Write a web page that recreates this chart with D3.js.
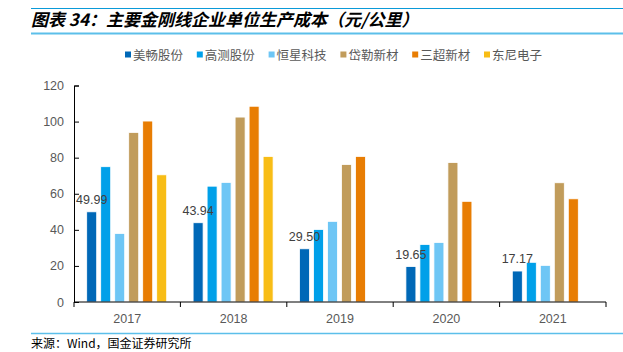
<!DOCTYPE html>
<html>
<head>
<meta charset="utf-8">
<script src="https://cdn.jsdelivr.net/npm/d3@7"></script>
<style>
  html, body { margin: 0; padding: 0; background: #fff; }
  svg { display: block; font-family: "Noto Sans CJK SC", "Liberation Sans", sans-serif; }
</style>
</head>
<body>
<div id="chart"></div>
<script>
const years = ['2017', '2018', '2019', '2020', '2021'];
const companies = ['美畅股份', '高测股份', '恒星科技', '岱勒新材', '三超新材', '东尼电子'];
const colors = ['#0068b7', '#00a0e9', '#6ec6f5', '#c19c5b', '#e87d03', '#f8bd16'];

// one array per company, null = no data
const meichang = [49.99, 43.94, 29.50, 19.65, 17.17];
const gaoce = [75, 64.2, 40.2, 31.9, 22.0];
const hengxing = [38, 66.3, 44.7, 33.0, 20.3];
const daile = [94, 102.5, 76.2, 77.3, 66.1];
const sanchao = [100.3, 108.5, 80.7, 55.8, 57.2];
const dongni = [70.5, 80.7, null, null, null];
const seriesValues = [meichang, gaoce, hengxing, daile, sanchao, dongni];

const yTicks = [0, 20, 40, 60, 80, 100, 120];
const title = '图表 34：主要金刚线企业单位生产成本（元/公里）';
const source = '来源：Wind，国金证券研究所';

const width = 623, height = 352;
const margin = { left: 74, right: 17, top: 85.5, bottom: 50 };

const svg = d3.select('#chart').append('svg')
    .attr('width', width)
    .attr('height', height);

// --- Header ---
svg.append('line')
    .attr('x1', 31).attr('x2', width).attr('y1', 8.5).attr('y2', 8.5)
    .attr('stroke', '#0a9ad8').attr('stroke-width', 1.2);
svg.append('line')
    .attr('x1', 31).attr('x2', width).attr('y1', 33.5).attr('y2', 33.5)
    .attr('stroke', '#5cbfea').attr('stroke-width', 2);
svg.append('text')
    .attr('x', 31).attr('y', 26)
    .attr('font-size', 17)
    .attr('font-weight', 'bold')
    .attr('font-style', 'italic')
    .attr('fill', '#000')
    .text(title);

// --- Footer ---
svg.append('line')
    .attr('x1', 31).attr('x2', width).attr('y1', 333.5).attr('y2', 333.5)
    .attr('stroke', '#5cbfea').attr('stroke-width', 1.5);
svg.append('text')
    .attr('x', 31).attr('y', 348)
    .attr('font-size', 12)
    .attr('fill', '#000')
    .text(source);

// --- Scales ---
const x0 = d3.scaleBand()
    .domain(years)
    .range([margin.left, width - margin.right])
    .padding(0);

const x1 = d3.scaleBand()
    .domain(companies)
    .range([12.7, 92.7])
    .paddingInner(4 / 14)
    .paddingOuter(0);

const y = d3.scaleLinear()
    .domain([0, 120])
    .range([height - margin.bottom, margin.top]);

// --- Legend ---
const legend = svg.append('g').attr('class', 'legend');
const legendItem = legend.selectAll('g')
    .data(companies)
    .enter().append('g')
    .attr('transform', (d, i) => `translate(${125 + i * 71.8},55)`);
legendItem.append('rect')
    .attr('x', 0).attr('y', -3.5)
    .attr('width', 6).attr('height', 6)
    .attr('fill', (d, i) => colors[i]);
legendItem.append('text')
    .attr('x', 8).attr('y', 4.5)
    .attr('font-size', 12.5)
    .attr('fill', '#595959')
    .text(d => d);

// --- Bars ---
const groups = svg.append('g').selectAll('g')
    .data(years)
    .enter().append('g')
    .attr('transform', d => `translate(${x0(d)},0)`);

groups.selectAll('rect')
    .data((yr, yi) => companies.map((c, ci) => ({ c, ci, v: seriesValues[ci][yi] }))
        .filter(d => d.v != null))
    .enter().append('rect')
    .attr('x', d => x1(d.c))
    .attr('width', x1.bandwidth())
    .attr('y', d => y(d.v))
    .attr('height', d => y(0) - y(d.v))
    .attr('fill', d => colors[d.ci])
    .attr('stroke', '#fff')
    .attr('stroke-width', 0.8);

// data labels on 美畅股份
groups.append('text')
    .attr('x', x1(companies[0]) + x1.bandwidth() / 2)
    .attr('y', (d, i) => y(meichang[i]) - 8)
    .attr('text-anchor', 'middle')
    .attr('font-size', 12.5)
    .attr('font-family', '"Liberation Sans", sans-serif')
    .attr('fill', '#404040')
    .text((d, i) => meichang[i].toFixed(2));

// --- Axes ---
const yAxis = svg.append('g')
    .attr('transform', `translate(${margin.left},0)`)
    .call(d3.axisRight(y).tickValues(yTicks).tickSize(5).tickFormat(d3.format('d')));
yAxis.select('.domain').attr('stroke', '#000');
yAxis.selectAll('.tick line').attr('stroke', '#000');
yAxis.selectAll('.tick text')
    .attr('x', -10)
    .attr('text-anchor', 'end')
    .attr('font-size', 12.5)
    .attr('font-family', '"Liberation Sans", sans-serif')
    .attr('fill', '#595959');

const xAxis = svg.append('g')
    .attr('transform', `translate(0,${y(0)})`);
xAxis.append('line')
    .attr('x1', margin.left).attr('x2', width - margin.right)
    .attr('stroke', '#000');
xAxis.selectAll('line.tk')
    .data(years.concat(['end']))
    .enter().append('line')
    .attr('class', 'tk')
    .attr('x1', (d, i) => margin.left + i * x0.step())
    .attr('x2', (d, i) => margin.left + i * x0.step())
    .attr('y1', 0).attr('y2', 5)
    .attr('stroke', '#000');
xAxis.selectAll('text')
    .data(years)
    .enter().append('text')
    .attr('x', d => x0(d) + x0.bandwidth() / 2)
    .attr('y', 21)
    .attr('text-anchor', 'middle')
    .attr('font-size', 12.5)
    .attr('font-family', '"Liberation Sans", sans-serif')
    .attr('fill', '#595959')
    .text(d => d);
</script>
</body>
</html>
